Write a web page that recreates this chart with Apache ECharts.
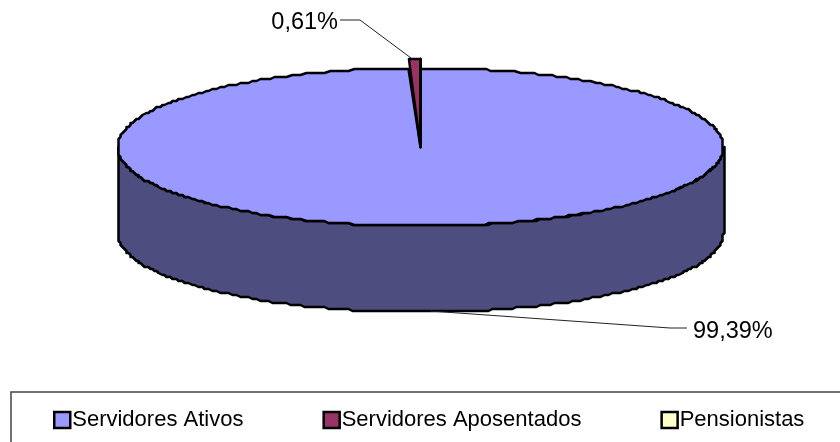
<!DOCTYPE html>
<html><head><meta charset="utf-8">
<style>html,body{margin:0;padding:0;background:#fff}#c{width:840px;height:442px}</style>
<script src="https://cdn.jsdelivr.net/npm/echarts@6/dist/echarts.min.js"></script>
</head><body><div id="c"></div>
<script>
const categories = ['Servidores Ativos', 'Servidores Aposentados', 'Pensionistas'];
const shares = [99.39, 0.61, 0];
const topColors = ['#9999FF', '#993366', '#FFFFCC'];
const sideColor = '#4D4D80';

const FONT = '"Liberation Sans", Arial, sans-serif';
const CX = 420.5, CY = 147, RX = 303, RY = 79, DEPTH = 86, LIFT = 9, GRID = 2;
const LEADERS = [
  { pts: [[430,311],[670,328],[687,328]], text: [693,332], align: 'left' },
  { pts: [[411,58],[360,20],[340,20]], text: [338,23], align: 'right' },
  null
];
const snap = v => Math.round(v / GRID) * GRID;
const total = shares.reduce((a, b) => a + b, 0);
const startOf = i => shares.slice(0, i).reduce((a, b) => a + b, 0) / total * Math.PI * 2;
function arc(a0, a1, ry, dy, rough) {
  const n = Math.max(2, Math.ceil(Math.abs(a1 - a0) * 60)), out = [];
  for (let k = 0; k <= n; k++) {
    const a = a0 + (a1 - a0) * k / n;
    let x = CX + RX * Math.sin(a), y = CY - ry * Math.cos(a) + dy;
    if (rough) { y = CY + dy + snap(y - CY - dy); x = CX + snap(x - CX); }
    out.push([x, y]);
  }
  return out;
}
const lineStyle = { stroke: '#000', lineWidth: 2.5, lineJoin: 'round' };
function render(i) {
  return function (params, api) {
    const v = api.value(0);
    const a0 = startOf(i), a1 = a0 + v / total * Math.PI * 2;
    const kids = [];
    if (i === 0) {
      const front = arc(Math.PI / 2, Math.PI * 1.5, RY, 0, true);
      const low = arc(Math.PI * 1.5, Math.PI / 2, RY, DEPTH, true);
      kids.push({ type: 'polygon', shape: { points: front.concat(low) }, style: { fill: sideColor, ...lineStyle } });
      kids.push({ type: 'polygon', shape: { points: [[CX, CY]].concat(arc(a0, a1, RY, 0, true)) }, style: { fill: topColors[i], ...lineStyle } });
    } else {
      const ry = RY + LIFT;
      kids.push({ type: 'polygon', shape: { points: [[CX, CY]].concat(arc(a0, a1, ry, 0, false)) },
        style: { fill: topColors[i], ...lineStyle, lineWidth: v > 0 ? 2.4 : 3 } });
    }
    const lead = LEADERS[i];
    if (lead && v > 0) {
      kids.push({ type: 'polyline', shape: { points: lead.pts }, style: { fill: 'none', stroke: '#222', lineWidth: 1 } });
      kids.push({ type: 'text', x: lead.text[0], y: lead.text[1], style: {
        text: v.toFixed(2).replace('.', ',') + '%', font: '23.5px ' + FONT, fill: '#000',
        align: lead.align, verticalAlign: 'middle' } });
    }
    return { type: 'group', children: kids };
  };
}
const chart = echarts.init(document.getElementById('c'), null, { renderer: 'canvas' });
chart.setOption({
  animation: false,
  backgroundColor: '#fff',
  legend: {
    data: categories, left: 48, top: 404, padding: 5, orient: 'horizontal',
    itemWidth: 16, itemHeight: 16, itemGap: 79, icon: 'rect', selectedMode: false,
    textStyle: { fontFamily: FONT, fontSize: 22, color: '#000', padding: [0, 0, 0, -3] },
    itemStyle: { borderColor: '#000', borderWidth: 2.5 }
  },
  graphic: [{ type: 'rect', shape: { x: 11, y: 392, width: 900, height: 120 }, z: -1, silent: true,
    style: { fill: 'none', stroke: '#444', lineWidth: 1.5 } }],
  series: categories.map((name, i) => ({
    type: 'custom', name, coordinateSystem: 'none', z: 2 + i,
    itemStyle: { color: topColors[i] },
    data: [[shares[i]]],
    renderItem: render(i)
  }))
});
</script></body></html>
